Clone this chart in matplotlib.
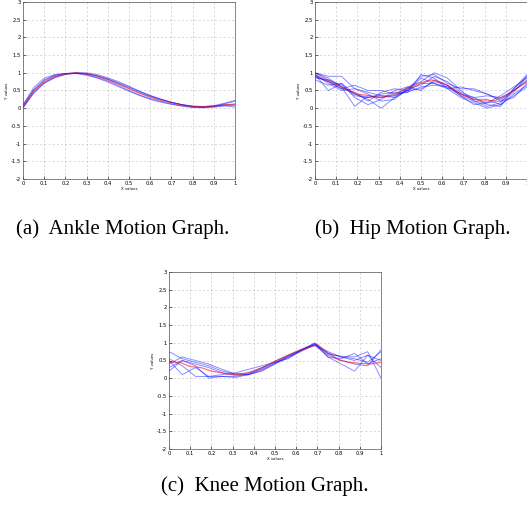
import numpy as np
import matplotlib.pyplot as plt

# grades de x
x_media = [0, 0.05, 0.1, 0.15, 0.2, 0.25, 0.3, 0.35, 0.4, 0.45, 0.5,
           0.55, 0.6, 0.65, 0.7, 0.75, 0.8, 0.85, 0.9, 0.95, 1.0]
x_amostra = [0, 0.0625, 0.125, 0.1875, 0.25, 0.3125, 0.375, 0.4375, 0.5,
             0.5625, 0.625, 0.6875, 0.75, 0.8125, 0.875, 0.9375, 1.0]

# tornozelo (ankle)
ankle_media = [0.05, 0.48, 0.74, 0.89, 0.97, 1.0, 0.97, 0.9, 0.8, 0.68, 0.55,
               0.42, 0.31, 0.22, 0.15, 0.09, 0.05, 0.04, 0.06, 0.09, 0.12]
ankle_curvas = [
    [0.1, 0.58, 0.85, 0.95, 0.98, 0.99, 0.95, 0.87, 0.77, 0.64, 0.5,
     0.37, 0.27, 0.19, 0.12, 0.07, 0.03, 0.02, 0.05, 0.12, 0.2],
    [0.02, 0.42, 0.7, 0.86, 0.95, 0.99, 1.0, 0.95, 0.86, 0.75, 0.62,
     0.48, 0.36, 0.26, 0.17, 0.1, 0.06, 0.05, 0.07, 0.14, 0.22],
    [0.05, 0.5, 0.78, 0.92, 0.98, 0.98, 0.93, 0.85, 0.74, 0.61, 0.48,
     0.36, 0.25, 0.17, 0.11, 0.06, 0.02, 0.01, 0.03, 0.06, 0.08],
    [0.0, 0.44, 0.72, 0.88, 0.96, 0.99, 0.97, 0.91, 0.82, 0.7, 0.57,
     0.44, 0.33, 0.24, 0.16, 0.1, 0.05, 0.03, 0.05, 0.08, 0.03],
    [0.08, 0.52, 0.8, 0.93, 0.98, 1.0, 0.98, 0.92, 0.83, 0.72, 0.6,
     0.47, 0.35, 0.25, 0.17, 0.1, 0.05, 0.04, 0.06, 0.1, 0.1],
]

# quadril (hip)
hip_media = [0.95, 0.8, 0.67, 0.52, 0.4, 0.36, 0.3, 0.35, 0.47, 0.6, 0.72,
             0.8, 0.72, 0.55, 0.36, 0.25, 0.2, 0.22, 0.35, 0.55, 0.75]
hip_curvas = [
    [1.0, 0.9, 0.9, 0.55, 0.45, 0.35, 0.3, 0.55, 0.9, 0.95, 0.7, 0.55, 0.55, 0.4, 0.2, 0.45, 0.9],
    [0.95, 0.5, 0.7, 0.3, 0.1, 0.25, 0.5, 0.6, 0.75, 1.0, 0.85, 0.5, 0.2, 0.05, 0.15, 0.55, 0.95],
    [0.9, 0.75, 0.55, 0.65, 0.5, 0.5, 0.4, 0.45, 0.6, 0.65, 0.6, 0.4, 0.25, 0.25, 0.1, 0.4, 0.65],
    [1.0, 0.85, 0.6, 0.4, 0.25, 0.0, 0.3, 0.5, 0.55, 0.75, 0.65, 0.35, 0.2, 0.15, 0.35, 0.6, 0.85],
    [0.85, 0.8, 0.65, 0.35, 0.3, 0.4, 0.45, 0.45, 0.95, 0.85, 0.55, 0.3, 0.15, 0.0, 0.1, 0.35, 0.6],
    [0.95, 0.7, 0.5, 0.55, 0.4, 0.2, 0.25, 0.55, 0.65, 0.9, 0.75, 0.45, 0.3, 0.35, 0.3, 0.5, 0.8],
    [0.8, 0.65, 0.7, 0.4, 0.3, 0.35, 0.35, 0.5, 0.85, 0.7, 0.6, 0.35, 0.1, 0.15, 0.2, 0.3, 0.7],
    [1.0, 0.8, 0.6, 0.05, 0.35, 0.3, 0.35, 0.6, 0.5, 0.8, 0.65, 0.4, 0.3, 0.1, 0.05, 0.55, 0.9],
    [0.9, 0.75, 0.55, 0.45, 0.2, 0.45, 0.55, 0.5, 0.7, 0.7, 0.55, 0.6, 0.5, 0.4, 0.25, 0.5, 0.75],
]

# joelho (knee)
knee_media = [0.45, 0.45, 0.33, 0.3, 0.2, 0.15, 0.1, 0.12, 0.2, 0.32, 0.48,
              0.62, 0.75, 0.85, 0.95, 0.72, 0.52, 0.45, 0.42, 0.4, 0.45]
knee_curvas = [
    [0.75, 0.55, 0.45, 0.35, 0.2, 0.12, 0.15, 0.3, 0.45, 0.62, 0.8, 0.97, 0.7, 0.6, 0.55, 0.45, 0.75],
    [0.5, 0.1, 0.3, 0.05, 0.05, 0.02, 0.1, 0.25, 0.42, 0.6, 0.78, 1.0, 0.68, 0.62, 0.6, 0.75, 0.0],
    [0.2, 0.5, 0.35, 0.0, 0.05, 0.05, 0.12, 0.28, 0.48, 0.65, 0.82, 0.98, 0.6, 0.4, 0.2, 0.65, 0.5],
    [0.3, 0.5, 0.4, 0.3, 0.15, 0.08, 0.1, 0.22, 0.42, 0.62, 0.8, 0.92, 0.75, 0.6, 0.5, 0.65, 0.3],
    [0.55, 0.35, 0.05, 0.05, 0.1, 0.15, 0.25, 0.35, 0.45, 0.55, 0.8, 0.95, 0.6, 0.55, 0.7, 0.4, 0.55],
    [0.4, 0.6, 0.5, 0.4, 0.25, 0.12, 0.1, 0.2, 0.4, 0.58, 0.76, 0.95, 0.65, 0.5, 0.4, 0.35, 0.8],
]

legendas = ['(a)  Ankle Motion Graph.', '(b)  Hip Motion Graph.', '(c)  Knee Motion Graph.']
xticks = [0, 0.1, 0.2, 0.3, 0.4, 0.5, 0.6, 0.7, 0.8, 0.9, 1]
yticks = [-2, -1.5, -1, -0.5, 0, 0.5, 1, 1.5, 2, 2.5, 3]

W, H = 527, 515
fig = plt.figure(figsize=(W / 100, H / 100), dpi=100)


def painel(rect, x_c, curvas, x_m, media):
    l, t, r, b = rect
    ax = fig.add_axes([l / W, 1 - b / H, (r - l) / W, (b - t) / H])
    for c in curvas:
        ax.plot(x_c, c, color='b', lw=0.7, alpha=0.45)
    ax.plot(x_m, media, color='r', lw=0.9, alpha=0.55)
    ax.set_xlim(0, 1)
    ax.set_ylim(-2, 3)
    ax.set_xticks(xticks)
    ax.set_xticklabels([('%g' % v) for v in xticks])
    ax.set_yticks(yticks)
    ax.set_yticklabels([('%g' % v) for v in yticks])
    ax.tick_params(direction='in', length=2, width=0.4, labelsize=3.8, pad=1.5)
    ax.grid(True, ls=(0, (3, 3)), color='#c8c8c8', lw=0.5)
    for s in ax.spines.values():
        s.set_linewidth(0.5)
        s.set_color('#555555')
    ax.set_xlabel('X values', fontsize=2.8, labelpad=0.5)
    ax.set_ylabel('Y values', fontsize=2.8, labelpad=1)
    return ax


painel((23, 2, 235, 179), x_media, ankle_curvas, x_media, ankle_media)
painel((315, 2, 527, 179), x_amostra, hip_curvas, x_media, hip_media)
painel((169, 272, 381, 449), x_amostra, knee_curvas, x_media, knee_media)

fonte = dict(fontsize=15, family='Liberation Serif', ha='center', va='center')
fig.text(123 / W, 1 - 229 / H, legendas[0], **fonte)
fig.text(413 / W, 1 - 229 / H, legendas[1], **fonte)
fig.text(265 / W, 1 - 486 / H, legendas[2], **fonte)

plt.savefig('out.png', dpi=100)
